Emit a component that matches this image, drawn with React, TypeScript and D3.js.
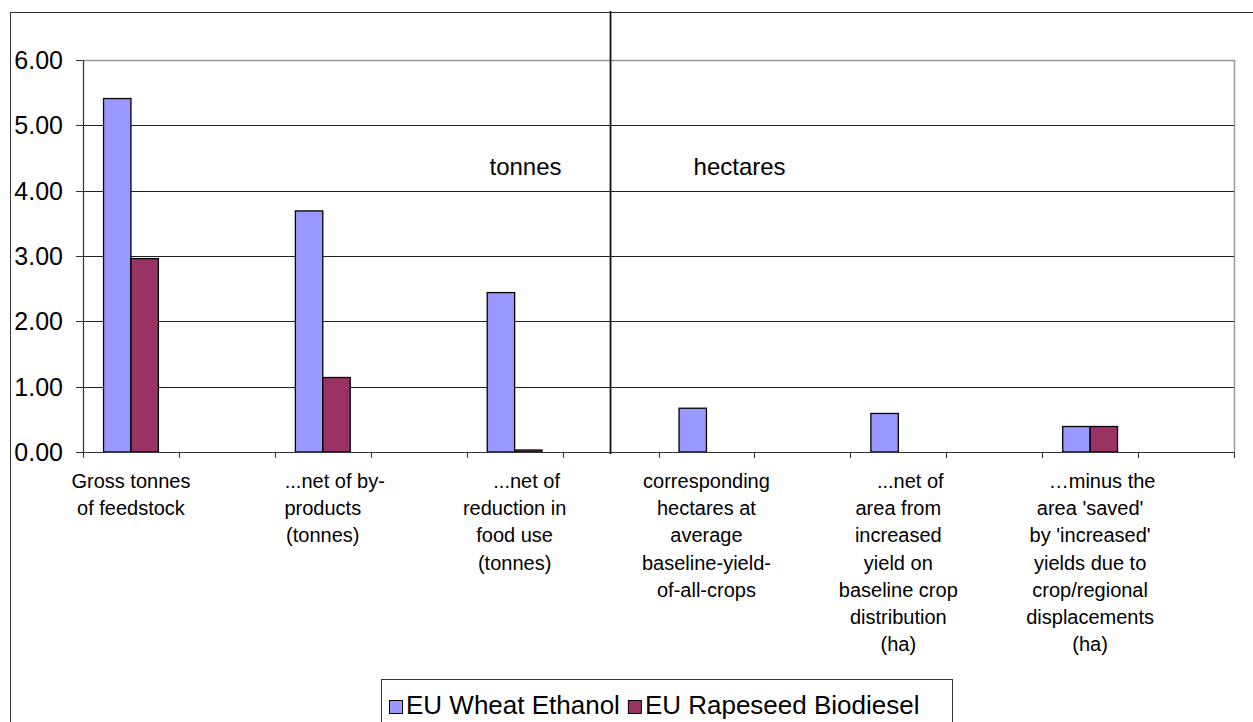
import React from 'react';
import * as d3 from 'd3';

// ---- data ----
const slots = ['c0', 'c1', 'c2', 'c3', 'c4', 'c5', 'c6', 'c7', 'c8', 'c9', 'c10', 'c11'];
const categoryLabels: string[][] = [
  ['Gross tonnes', 'of feedstock'],
  [],
  ['...net of by-', 'products', '(tonnes)'],
  [],
  ['...net of', 'reduction in', 'food use', '(tonnes)'],
  [],
  ['corresponding', 'hectares at', 'average', 'baseline-yield-', 'of-all-crops'],
  [],
  ['...net of', 'area from', 'increased', 'yield on', 'baseline crop', 'distribution', '(ha)'],
  [],
  ['\u2026minus the', "area 'saved'", "by 'increased'", 'yields due to', 'crop/regional', 'displacements', '(ha)'],
  [],
];
const wheatEthanol: (number | null)[] = [5.41, null, 3.69, null, 2.44, null, 0.67, null, 0.59, null, 0.39, null];
const rapeseedBiodiesel: (number | null)[] = [2.96, null, 1.14, null, 0.03, null, null, null, null, null, 0.39, null];
const seriesNames = ['EU Wheat Ethanol', 'EU Rapeseed Biodiesel'];
const seriesColors = ['#9999FF', '#993366'];
const yTicks = [0, 1, 2, 3, 4, 5, 6];
const sectionLabels = ['tonnes', 'hectares'];

const FONT = "Arial, 'Liberation Sans', sans-serif";

export default function App() {
  const W = 1253;
  const H = 722;
  const left = 83;
  const right = 1234;
  const top = 60;
  const bottom = 452;

  const x0 = d3.scaleBand<string>().domain(slots).range([left, right]).paddingInner(0).paddingOuter(0);
  const bw = x0.bandwidth();
  const groupW = (bw * 2) / 3.5;
  const x1 = d3
    .scaleBand<string>()
    .domain(seriesNames)
    .range([(bw - groupW) / 2, (bw + groupW) / 2]);
  const y = d3.scaleLinear().domain([0, 6]).range([bottom, top]);

  const series = [wheatEthanol, rapeseedBiodiesel];
  const dividerX = (x0('c5') as number) + bw / 2;
  const tickXs = [...slots.map((s) => x0(s) as number), right];

  // legend layout (measured from font size)
  const legFont = 26;
  const legY = 714;
  const sq = 13;
  const item1X = 389;
  const text1W = 8.226 * legFont;
  const item2X = item1X + sq + 4 + text1W + 8;

  return (
    <svg width={W} height={H} style={{ position: 'absolute', left: 0, top: 0, background: '#fff' }}>
      <rect x={0} y={0} width={W} height={H} fill="#fff" />
      {/* outer chart border */}
      <rect x={10.5} y={12.5} width={W + 10} height={H + 10} fill="none" stroke="#333" strokeWidth={1} />

      {/* gridlines */}
      {yTicks.filter((t) => t > 0 && t < 6).map((t) => (
        <line key={'g' + t} x1={left} x2={right} y1={Math.round(y(t)) + 0.5} y2={Math.round(y(t)) + 0.5} stroke="#222" strokeWidth={1} />
      ))}
      {/* plot area border (top/right) */}
      <line x1={left} x2={right} y1={top + 0.5} y2={top + 0.5} stroke="#999" strokeWidth={1.5} />
      <line x1={right + 0.5} x2={right + 0.5} y1={top} y2={bottom} stroke="#999" strokeWidth={1.5} />

      {/* bars */}
      {series.map((vals, si) =>
        vals.map((v, i) =>
          v == null ? null : (
            <rect
              key={'b' + si + '-' + i}
              x={(x0(slots[i]) as number) + (x1(seriesNames[si]) as number)}
              y={y(v)}
              width={x1.bandwidth()}
              height={y(0) - y(v)}
              fill={seriesColors[si]}
              stroke="#000"
              strokeWidth={1.3}
            />
          )
        )
      )}

      {/* axes */}
      <line x1={left + 0.5} x2={left + 0.5} y1={top} y2={bottom} stroke="#333" strokeWidth={1.2} />
      <line x1={left} x2={right} y1={bottom + 0.5} y2={bottom + 0.5} stroke="#333" strokeWidth={1.2} />
      {yTicks.map((t) => (
        <g key={'yt' + t}>
          <line x1={left - 7} x2={left} y1={Math.round(y(t)) + 0.5} y2={Math.round(y(t)) + 0.5} stroke="#333" strokeWidth={1} />
          <text x={63} y={y(t)} dy="0.36em" textAnchor="end" fontFamily={FONT} fontSize={25} fill="#000">
            {d3.format('.2f')(t)}
          </text>
        </g>
      ))}
      {tickXs.map((tx, i) => (
        <line key={'xt' + i} x1={Math.round(tx) + 0.5} x2={Math.round(tx) + 0.5} y1={bottom} y2={bottom + 6} stroke="#333" strokeWidth={1} />
      ))}

      {/* category labels */}
      {categoryLabels.map((lines, i) =>
        lines.length === 0 ? null : (
          <text key={'cl' + i} fontFamily={FONT} fontSize={20} fill="#000" textAnchor="middle">
            {lines.map((ln, li) => (
              <tspan
                key={li}
                x={(x0(slots[i]) as number) + bw / 2 + (li === 0 && /^(\.\.\.|\u2026)/.test(ln) ? 12 : 0)}
                y={488 + li * 27.2}
              >
                {ln}
              </tspan>
            ))}
          </text>
        )
      )}

      {/* divider */}
      <line x1={dividerX} x2={dividerX} y1={11} y2={bottom + 2} stroke="#111" strokeWidth={1.8} />
      <text x={dividerX - 49} y={175} textAnchor="end" fontFamily={FONT} fontSize={24} fill="#000">
        {sectionLabels[0]}
      </text>
      <text x={dividerX + 83} y={175} textAnchor="start" fontFamily={FONT} fontSize={24} fill="#000">
        {sectionLabels[1]}
      </text>

      {/* legend */}
      <rect x={381.5} y={679.5} width={571} height={60} fill="#fff" stroke="#333" strokeWidth={1} />
      <rect x={item1X + 0.5} y={legY - sq - 0.5} width={sq} height={sq} fill={seriesColors[0]} stroke="#000" strokeWidth={1} />
      <text x={item1X + sq + 4} y={legY} fontFamily={FONT} fontSize={legFont} fill="#000">
        {seriesNames[0]}
      </text>
      <rect x={item2X + 0.5} y={legY - sq - 0.5} width={sq} height={sq} fill={seriesColors[1]} stroke="#000" strokeWidth={1} />
      <text x={item2X + sq + 4} y={legY} fontFamily={FONT} fontSize={legFont} fill="#000">
        {seriesNames[1]}
      </text>
    </svg>
  );
}
